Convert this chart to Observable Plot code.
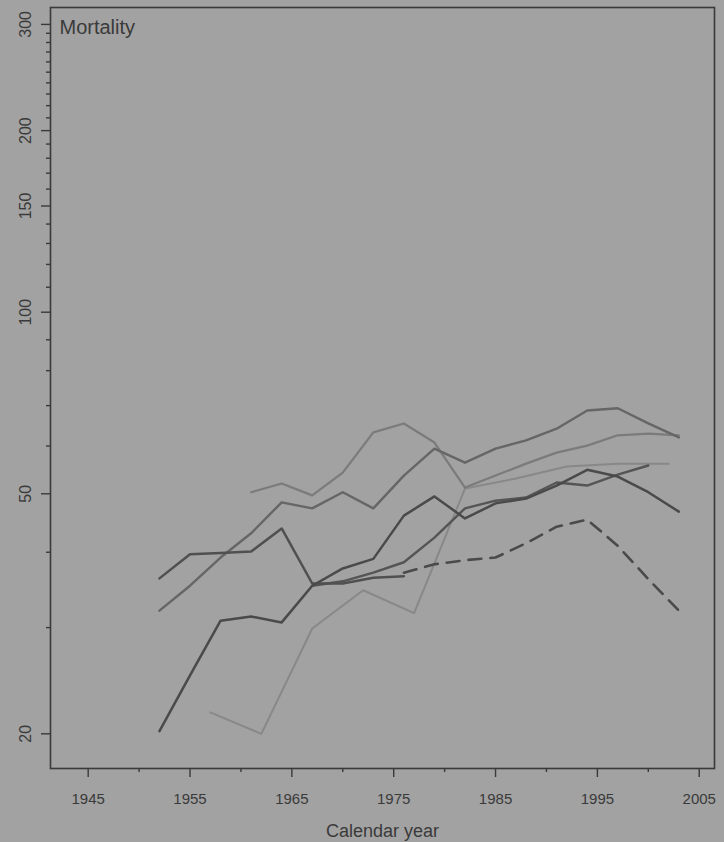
<!DOCTYPE html>
<html>
<head>
<meta charset="utf-8">
<script src="https://cdn.jsdelivr.net/npm/d3@7"></script>
<script src="https://cdn.jsdelivr.net/npm/@observablehq/plot@0.6"></script>
<style>
  html, body { margin: 0; padding: 0; background: #a2a2a2; }
</style>
</head>
<body>
<div id="chart"></div>
<script>
// Calendar years (3-yearly and 5-yearly observation points)
const years3 = [1952, 1955, 1958, 1961, 1964, 1967, 1970, 1973, 1976, 1979, 1982, 1985, 1988, 1991, 1994, 1997, 2000, 2003];
const years5 = [1957, 1962, 1967, 1972, 1977, 1982, 1987, 1992, 1997, 2002];

// Series values (mortality per 100,000)
const seriesQ = [32.0, 35.2, 39.2, 43.0, 48.4, 47.3, 50.3, 47.3, 53.6, 59.4, 56.3, 59.4, 61.3, 64.1, 68.7, 69.3, 65.4, 62.0];          // 1952-2003
const seriesR = [50.3, 52.0, 49.7, 54.2, 63.2, 65.4, 60.8, 51.2, 53.6, 56.1, 58.5, 60.1, 62.5, 62.9, 62.5];                            // 1961-2003
const seriesT = [20.2, 25.0, 30.8, 31.3, 30.6, 35.2, 37.6, 39.0, 46.0, 49.5, 45.5, 48.2, 49.1, 51.6, 54.8, 53.4, 50.3, 46.7];          // 1952-2003
const seriesP = [36.2, 39.7, 39.9, 40.1, 43.8, 35.5, 35.5, 36.3, 36.5];                                                                // 1952-1976
const seriesB = [35.2, 35.8, 37.0, 38.5, 42.3, 47.3, 48.7, 49.3, 52.2, 51.6, 53.8, 55.7];                                              // 1967-2000
const seriesD = [37.0, 38.2, 38.8, 39.2, 41.4, 44.1, 45.3, 41.0, 36.1, 32.0];                                                          // 1976-2003 (dashed)
const seriesL = [21.7, 20.0, 29.9, 34.6, 31.7, 51.0, 53.0, 55.5, 56.1, 56.1];                                                          // 1957-2002 (5-yearly)

// Tick values
const xMajorTicks = [1945, 1955, 1965, 1975, 1985, 1995, 2005];
const xMinorTicks = [1950, 1960, 1970, 1980, 1990, 2000];
const yMajorTicks = [20, 50, 100, 150, 200, 300];
const yMinorTicks = [30, 40, 60, 70, 80, 90, 110, 120, 130, 140, 160, 170, 180, 190, 210, 220, 230, 240, 250, 260, 270, 280, 290];

const titleText = "Mortality";
const xLabel = "Calendar year";

function rows(name, years, values) {
  return values.map((v, i) => ({series: name, year: years[i], value: v}));
}

const dataQ = rows("Q", years3, seriesQ);
const dataR = rows("R", years3.slice(years3.indexOf(1961)), seriesR);
const dataT = rows("T", years3, seriesT);
const dataP = rows("P", years3, seriesP);
const dataB = rows("B", years3.slice(years3.indexOf(1967)), seriesB);
const dataD = rows("D", years3.slice(years3.indexOf(1976)), seriesD);
const dataL = rows("L", years5, seriesL);

const ink = "#3a3a3a";

const chart = Plot.plot({
  width: 724,
  height: 842,
  marginLeft: 50,
  marginRight: 10,
  marginTop: 7,
  marginBottom: 74,
  style: {background: "#a2a2a2", fontFamily: "'Liberation Sans', Arial, sans-serif", color: ink},
  x: {domain: [1941.3, 2006.5]},
  y: {type: "log", domain: [17.52, 320]},
  marks: [
    Plot.line(dataL, {x: "year", y: "value", stroke: "#888888", strokeWidth: 2}),
    Plot.line(dataR, {x: "year", y: "value", stroke: "#7b7b7b", strokeWidth: 2.2}),
    Plot.line(dataQ, {x: "year", y: "value", stroke: "#666666", strokeWidth: 2.4}),
    Plot.line(dataB, {x: "year", y: "value", stroke: "#555555", strokeWidth: 2.4}),
    Plot.line(dataP, {x: "year", y: "value", stroke: "#505050", strokeWidth: 2.5}),
    Plot.line(dataT, {x: "year", y: "value", stroke: "#4a4a4a", strokeWidth: 2.5}),
    Plot.line(dataD, {x: "year", y: "value", stroke: "#4a4a4a", strokeWidth: 2.6, strokeDasharray: "13,9"}),
    Plot.frame({stroke: ink, strokeWidth: 1.6}),
    Plot.axisX({ticks: xMajorTicks, tickSize: 9, tickPadding: 16, tickFormat: d => String(d), fontSize: 15, label: null, stroke: ink, strokeWidth: 1.4}),
    Plot.axisX({ticks: xMinorTicks, tickSize: 4, tickFormat: () => "", label: null, stroke: ink, strokeWidth: 1.4}),
    Plot.axisY({ticks: yMajorTicks, tickSize: 9, tickFormat: () => "", label: null, stroke: ink, strokeWidth: 1.4}),
    Plot.axisY({ticks: yMinorTicks, tickSize: 4, tickFormat: () => "", label: null, stroke: ink, strokeWidth: 1.4}),
    Plot.text(yMajorTicks, {y: d => d, text: d => String(d), frameAnchor: "left", dx: -25, rotate: -90, textAnchor: "middle", lineAnchor: "middle", fontSize: 16, fill: ink}),
    Plot.text([titleText], {text: d => d, frameAnchor: "top-left", dx: 9, dy: 20, textAnchor: "start", lineAnchor: "middle", fontSize: 20, fill: ink}),
    Plot.text([xLabel], {text: d => d, frameAnchor: "bottom", dy: 63, textAnchor: "middle", lineAnchor: "middle", fontSize: 18, fill: ink})
  ]
});

document.getElementById("chart").appendChild(chart);
</script>
</body>
</html>
